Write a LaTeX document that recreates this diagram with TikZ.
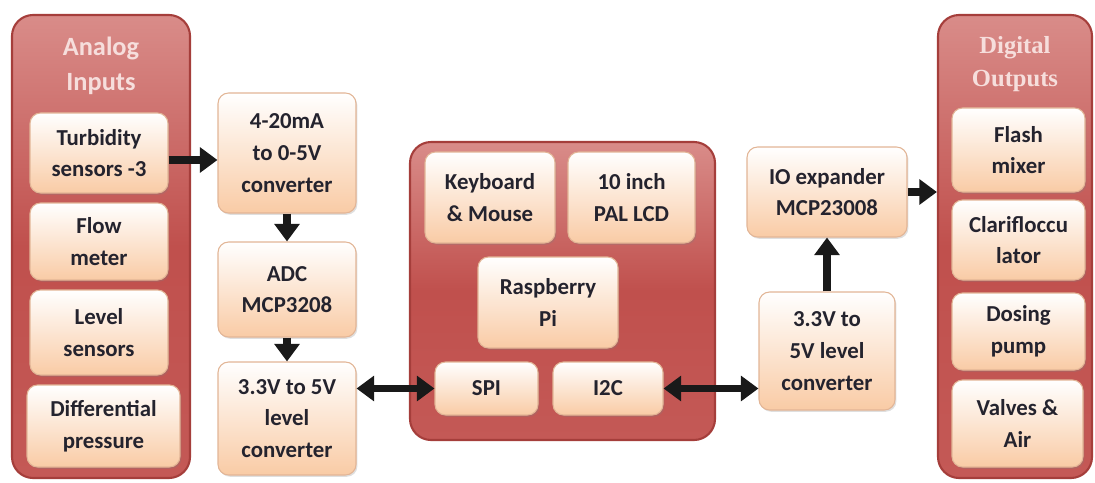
\documentclass[tikz,border=0pt]{standalone}
\usepackage{fontspec}
\setmainfont{Carlito}
\newfontfamily\timesbold{Liberation Serif}
\usepackage{tikz}
\usetikzlibrary{arrows.meta}
\usetikzlibrary{shadows}
\usetikzlibrary{positioning}

\definecolor{panelRed}{HTML}{C0504D}
\definecolor{panelTop}{HTML}{D98C89}
\definecolor{panelEdge}{HTML}{A53E3B}
\definecolor{peach}{HTML}{F9CBA5}
\definecolor{peachEdge}{HTML}{E2B596}
\definecolor{inkDark}{HTML}{24232E}
\definecolor{titlePink}{HTML}{F6DEDC}

\begin{document}
\begin{tikzpicture}[x=0.02cm, y=-0.02cm,
panel/.style = {rounded corners=12pt, draw=panelEdge, line width=1.2pt, top color=panelTop, bottom color=panelRed!85!panelTop, middle color=panelRed, inner sep=0pt},
block/.style = {rounded corners=6pt, draw=peachEdge, line width=0.6pt, top color=white, bottom color=peach, inner sep=0pt, align=center, text=inkDark, font=\fontsize{13}{18}\selectfont\bfseries, drop shadow={shadow xshift=0.8pt, shadow yshift=-1pt, opacity=0.25}},
dims/.style 2 args = {minimum width=#1*\pix, minimum height=#2*\pix},
title/.style = {align=center, text=titlePink, font=\fontsize{15}{20}\selectfont\bfseries},
flow/.style = {line width=4.5pt, draw=black!90, -{Triangle[length=10pt, width=14pt]}},
flowBoth/.style = {flow, {Triangle[length=10pt, width=14pt]}-{Triangle[length=10pt, width=14pt]}}]
\def\pix{0.02cm}
\useasboundingbox (0,0) rectangle (1095,483);

\node[panel, dims={178}{463}] (analog) at (101,246.5) {};
\node[panel, dims={305}{298}] (board) at (562.5,291) {};
\node[panel, dims={154}{463}] (digital) at (1015,246.5) {};

\node[title] (analogT) at (101,66) {Analog\\Inputs};
\node[title, font=\fontsize{14}{19}\selectfont\timesbold\bfseries] (digitalT) at (1015,64) {Digital\\Outputs};

\node[block, dims={138}{80}] (turb) at (99,153) {Turbidity\\sensors -3};
\node[block, dims={138}{77}] (flowm) at (99,241.5) {Flow\\meter};
\node[block, dims={138}{85}] (level) at (99,332.5) {Level\\sensors};
\node[block, dims={153}{82}] (diff) at (103.5,426) {Differential\\pressure};

\node[block, dims={138}{120}] (conv) at (287,153) {4-20mA\\to 0-5V\\converter};
\node[block, dims={138}{95}] (adc) at (287,289.5) {ADC\\MCP3208};
\node[block, dims={138}{113}] (lvlL) at (287,418.5) {3.3V to 5V\\level\\converter};

\node[block, dims={130}{91}] (kbd) at (490,197.5) {Keyboard\\\& Mouse};
\node[block, dims={127}{91}] (lcd) at (631.5,197.5) {10 inch\\PAL LCD};
\node[block, dims={140}{91}] (rpi) at (548,302.5) {Raspberry\\Pi};
\node[block, dims={103}{53}] (spi) at (486.5,388.5) {SPI};
\node[block, dims={110}{53}] (iic) at (608,388.5) {I2C};

\node[block, dims={136}{118}] (lvlR) at (827,351) {3.3V to\\5V level\\converter};
\node[block, dims={160}{90}] (ioexp) at (827,192) {IO expander\\MCP23008};

\node[block, dims={133}{84}] (flash) at (1018.5,150) {Flash\\mixer};
\node[block, dims={133}{80}] (clar) at (1018.5,240) {Clarifloccu\\lator};
\node[block, dims={133}{77}] (dosing) at (1018.5,331.5) {Dosing\\pump};
\node[block, dims={131}{87}] (valves) at (1017.5,423.5) {Valves \&\\Air};

\draw[flow, transform canvas={yshift=-0.14cm}] (turb) to (conv);
\draw[flow] (conv) to (adc);
\draw[flow] (adc) to (lvlL);
\draw[flowBoth] (spi.west) to (spi.west -| lvlL.east);
\draw[flowBoth] (iic.east) to (iic.east -| lvlR.west);
\draw[flow] (lvlR) to (ioexp);
\draw[flow] (ioexp.east) to (ioexp.east -| digital.west);

\end{tikzpicture}
\end{document}
